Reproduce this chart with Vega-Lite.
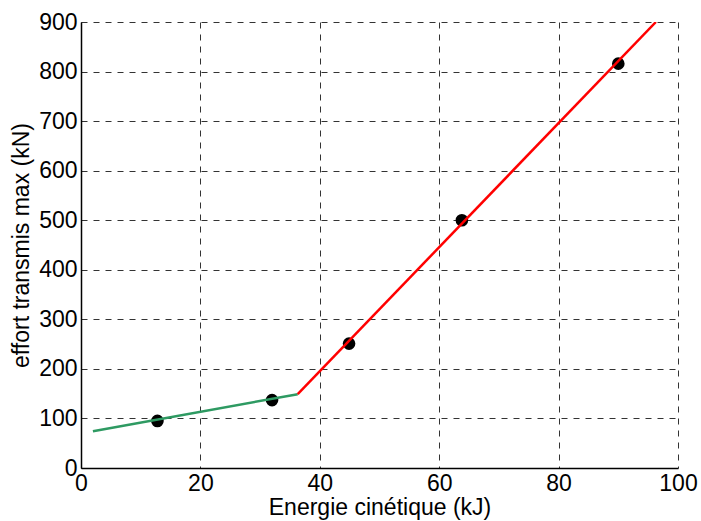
{
  "$schema": "https://vega.github.io/schema/vega-lite/v6.json",
  "autosize": "none",
  "width": 597,
  "height": 446,
  "padding": {"left": 81, "top": 22, "right": 23, "bottom": 53},
  "background": "white",
  "config": {
    "view": {"stroke": null},
    "font": "Liberation Sans",
    "axis": {
      "labelFont": "Liberation Sans",
      "titleFont": "Liberation Sans",
      "labelFontSize": 23,
      "titleFontSize": 23,
      "titleFontWeight": "normal",
      "labelColor": "black",
      "titleColor": "black",
      "domainColor": "black",
      "domainWidth": 1.5,
      "gridColor": "black",
      "gridDash": [6, 6],
      "gridOpacity": 0.8,
      "gridWidth": 1,
      "tickSize": 0,
      "labelPadding": 4
    }
  },
  "datasets": {
    "points": [
      {"E": 12.8, "F": 95},
      {"E": 32.0, "F": 137},
      {"E": 44.9, "F": 251},
      {"E": 63.8, "F": 500},
      {"E": 90.0, "F": 816}
    ],
    "lines": [
      {"series": "faible", "E": 2.0, "F": 74},
      {"series": "faible", "E": 36.3, "F": 149},
      {"series": "fort", "E": 36.3, "F": 149},
      {"series": "fort", "E": 96.3, "F": 900}
    ]
  },
  "layer": [
    {
      "data": {"name": "points"},
      "mark": {"type": "point", "filled": true, "color": "black", "size": 160, "opacity": 1},
      "encoding": {
        "x": {
          "field": "E", "type": "quantitative",
          "scale": {"domain": [0, 100], "nice": false, "zero": false},
          "axis": {"values": [0, 20, 40, 60, 80, 100], "title": "Energie cinétique (kJ)", "titlePadding": 1, "labelFlush": false}
        },
        "y": {
          "field": "F", "type": "quantitative",
          "scale": {"domain": [0, 900], "nice": false},
          "axis": {"values": [0, 100, 200, 300, 400, 500, 600, 700, 800, 900], "title": "effort transmis max (kN)", "titlePadding": 5, "labelFlush": false}
        }
      }
    },
    {
      "data": {"name": "lines"},
      "mark": {"type": "line", "strokeWidth": 2.5, "clip": true},
      "encoding": {
        "x": {"field": "E", "type": "quantitative"},
        "y": {"field": "F", "type": "quantitative"},
        "detail": {"field": "series"},
        "color": {
          "field": "series", "type": "nominal",
          "scale": {"domain": ["faible", "fort"], "range": ["#2e9a62", "#ff0000"]},
          "legend": null
        }
      }
    }
  ]
}
